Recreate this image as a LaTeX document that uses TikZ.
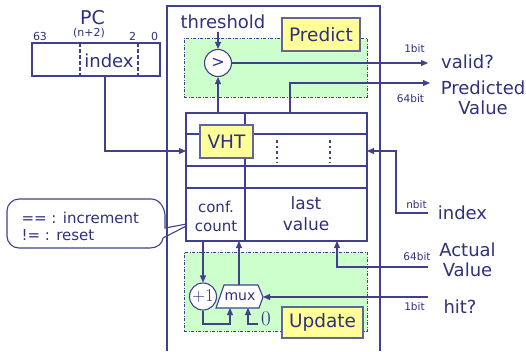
\documentclass[tikz,border=0pt]{standalone}
\usepackage{fontspec}
\setsansfont{DejaVu Sans}
\usetikzlibrary{arrows.meta}
\definecolor{ln}{RGB}{64,64,140}
\definecolor{tx}{RGB}{48,48,125}
\definecolor{grn}{RGB}{204,255,204}
\definecolor{ylw}{RGB}{255,255,153}
\definecolor{ybd}{RGB}{100,100,150}
\newcommand{\fs}[1]{\fontsize{#1}{#1}\selectfont}
\begin{document}
\begin{tikzpicture}[x=1pt,y=-1pt,line width=1.1pt,color=ln,
  every node/.style={text=tx,inner sep=0pt,font=\sffamily},
  arr/.style={-{Triangle[length=7pt,width=6pt]}},
  big/.style={font=\sffamily\fs{18}},
  mid/.style={font=\sffamily\fs{15}},
  tiny/.style={font=\sffamily\fs{10.5}},
  bits/.style={font=\sffamily\fs{11}},
  ylbox/.style={draw=ybd,fill=ylw,font=\sffamily\fs{18.5}},
  zone/.style={draw=ln,fill=grn,line width=0.8pt,dash pattern=on 3pt off 1.5pt on 1pt off 1.5pt},
  dots/.style={line width=1.5pt,dash pattern=on 2.5pt off 3pt}]
\useasboundingbox (0,0) rectangle (526,351);

% speech bubble
\draw[fill=white] (19,199) -- (151,199) to[out=0,in=95] (165,215) -- (165,228) -- (192,223)
  -- (163,238) to[out=-95,in=0] (150,248) -- (19,248) arc[start angle=90,end angle=180,radius=12]
  -- (7,211) arc[start angle=180,end angle=270,radius=12] -- cycle;
\node[mid,anchor=west,align=left] (bub) at (21,226) {== : increment\\[2pt]!= : reset};

% outer box
\draw (167,351) -- (167,6) -- (380,6) -- (380,351);

% green zones
\node[zone,minimum width=183pt,minimum height=59pt] (pz) at (275.5,67.5) {};
\node[zone,minimum width=183pt,minimum height=79pt] (uz) at (275.5,291.5) {};
\node[ylbox,minimum width=78pt,minimum height=33pt] (pred) at (321,34.5) {Predict};
\node[big] (thr) at (223,22) {threshold};
\node[draw,circle,fill=white,minimum size=27pt,font=\sffamily\fs{16}] (cmp) at (218,63) {>};

% PC register
\node[big,font=\sffamily\fs{19}] (pclbl) at (92.5,18) {PC};
\node[draw,fill=white,minimum width=128pt,minimum height=33pt] (pc) at (96,59.5) {};
\draw[line width=1.5pt,dash pattern=on 4pt off 2pt] (80,43) -- (80,76);
\draw[line width=1.5pt,dash pattern=on 4pt off 2pt] (138,43) -- (138,76);
\node[big] (pcidx) at (109,60.5) {index};
\node[bits] (b63) at (40,36) {63};
\node[bits] (bn2) at (89,33) {(n+2)};
\node[bits] (b2) at (132.5,36) {2};
\node[bits] (b0) at (154.5,36) {0};

% VHT table
\node[draw,fill=white,minimum width=181pt,minimum height=128pt] (tbl) at (276.5,177) {};
\draw (186,134) -- (367,134);
\draw (186,166) -- (367,166);
\draw (186,188) -- (367,188);
\draw (245,113) -- (245,241);
\draw[dots] (277,140) -- (277,163);
\draw[dots] (330,140) -- (330,163);
\node[ylbox,minimum width=53pt,minimum height=33pt] (vht) at (226.5,141.5) {VHT};
\node[mid,align=center] (cc) at (216,216) {conf.\\[4pt]count};
\node[big,font=\sffamily\fs{17},align=center] (lv) at (306,214) {last\\[4pt]value};

% update logic
\node[ylbox,minimum width=81pt,minimum height=31pt] (upd) at (322.5,322.5) {Update};
\node[draw,circle,fill=white,minimum size=27pt,font=\rmfamily\fs{18}] (inc) at (203,296.5) {+1};
\coordinate (m1) at (224,285);
\coordinate (m2) at (258,285);
\coordinate (m3) at (263,297);
\coordinate (m4) at (259,308);
\coordinate (m5) at (216,308);
\draw[fill=white] (m1) -- (m2) -- (m3) -- (m4) -- (m5) -- cycle;
\node[font=\sffamily\fs{14}] (mux) at (240,297) {mux};
\node[font=\rmfamily\fs{21}] (zero) at (266,319) {0};

% right side labels
\node[big] (valid) at (467.5,62) {valid?};
\node[big,align=center] (pval) at (483,98) {Predicted\\[2pt]Value};
\node[big] (ridx) at (462.5,213) {index};
\node[big,align=center] (aval) at (467.5,260) {Actual\\[2pt]Value};
\node[big] (hit) at (460,307) {hit?};
\node[tiny] (bv) at (414.5,49) {1bit};
\node[tiny] (bp) at (410.5,99) {64bit};
\node[tiny] (bi) at (416.5,205) {nbit};
\node[tiny] (ba) at (417,257) {64bit};
\node[tiny] (bh) at (414.5,307) {1bit};

% free ends and joints
\coordinate (vt) at (428,63);
\coordinate (pt) at (430,83);
\coordinate (pvs) at (290,113);
\coordinate (ipc) at (105,76);
\coordinate (tl) at (186,151);
\coordinate (tr) at (367,151);
\coordinate (ni) at (428,213);
\coordinate (av) at (428,267);
\coordinate (lvb) at (337,241);
\coordinate (hi) at (428,297);
\coordinate (ccb) at (203,241);
\coordinate (mxt) at (239,285);
\coordinate (mxb) at (239,241);

% connectors
\draw[arr] ([yshift=-2pt]cmp.north |- thr.south) -- (cmp.north);
\draw[arr] (cmp.south |- tbl.north) -- (cmp.south);
\draw[arr] (cmp.east) -- (vt);
\draw[arr] (pvs) |- (pt);
\draw[arr] (ipc) |- (tl);
\draw[arr] (ni) -- (396,213) |- (tr);
\draw[arr] (av) -| (lvb);
\draw[arr] (hi) -- (m3);
\draw[arr] (ccb) -- (inc.north);
\draw[arr] (mxt) -- (mxb);
\draw[arr] (inc.south) -- (203,324) -| (230,308);
\draw[arr] (258,324) -| (248,308);
\end{tikzpicture}
\end{document}
